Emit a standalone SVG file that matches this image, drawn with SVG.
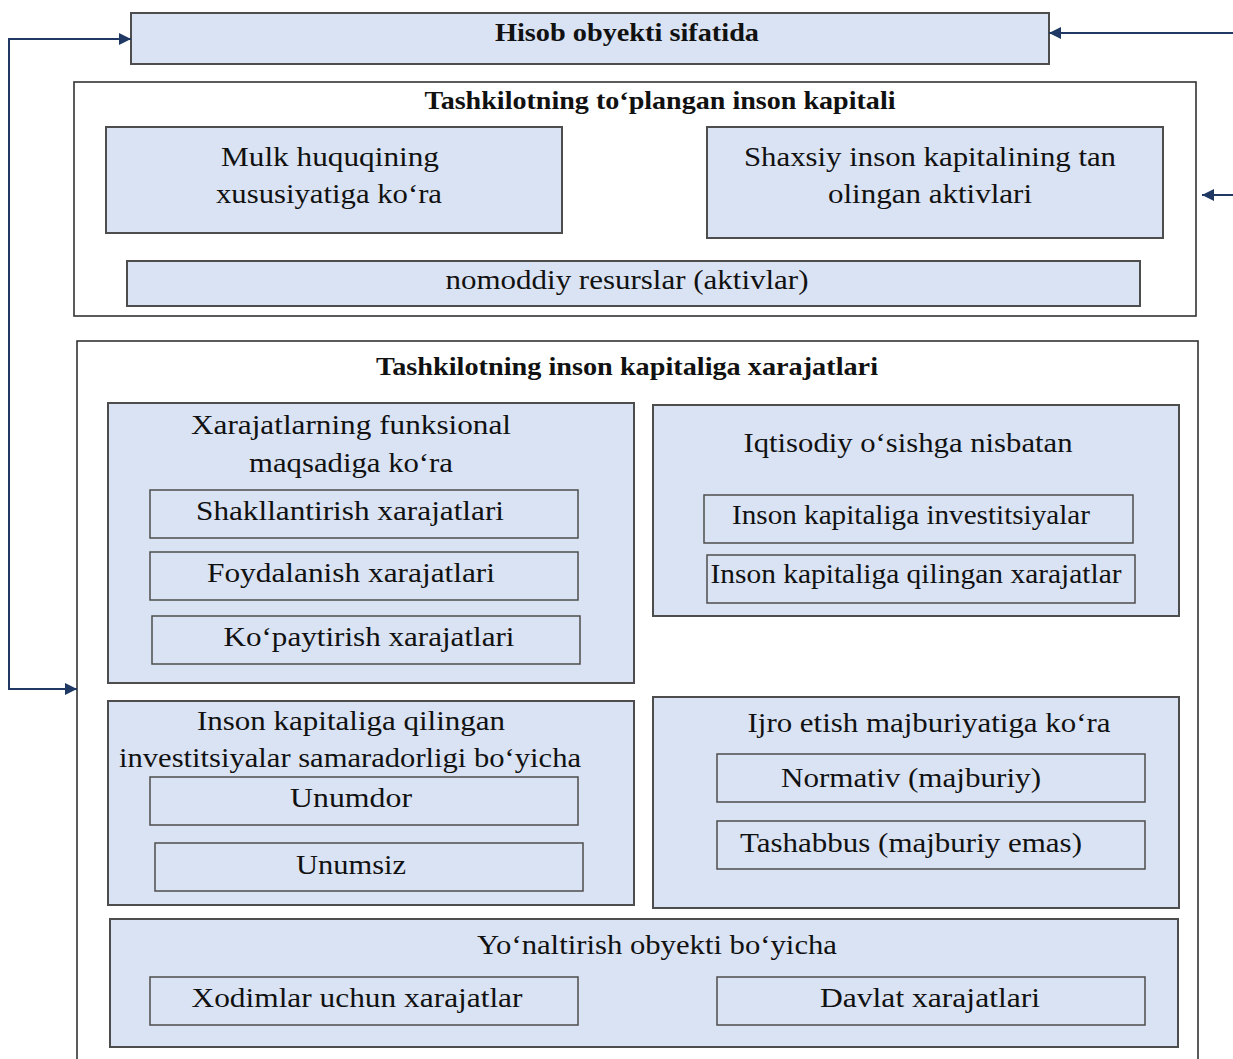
<svg xmlns="http://www.w3.org/2000/svg" width="1233" height="1059" viewBox="0 0 1233 1059">
<style>
.bg{fill:#ffffff}
.node{fill:#dae3f3;stroke:#4d4d4d;stroke-width:2}
.sub{fill:#dae3f3;stroke:#4d4d4d;stroke-width:1.5}
.frame{fill:#ffffff;stroke:#333333;stroke-width:1.6}
.t{font-family:"Liberation Serif","Times New Roman",serif;font-size:27px;fill:#111111;text-anchor:middle}
.b{font-family:"Liberation Serif","Times New Roman",serif;font-size:25px;font-weight:bold;fill:#111111;text-anchor:middle}
.conn{fill:none;stroke:#1f3864;stroke-width:2}
</style>
<defs>
<marker id="arr" viewBox="0 0 10 10" refX="10" refY="5" markerWidth="6.5" markerHeight="6" orient="auto" markerUnits="strokeWidth">
<path d="M0,0 L10,5 L0,10 z" fill="#1f3864"/>
</marker>
</defs>
<rect class="bg" x="0" y="0" width="1233" height="1059"/>

<g id="hisob">
<rect class="node" x="131" y="13" width="918" height="51"/>
<text class="b" x="627" y="41" textLength="264" lengthAdjust="spacingAndGlyphs">Hisob obyekti sifatida</text>
</g>

<g id="toplangan">
<rect class="frame" x="74" y="82" width="1122" height="234"/>
<text class="b" x="660" y="109" textLength="471" lengthAdjust="spacingAndGlyphs">Tashkilotning to‘plangan inson kapitali</text>
</g>

<g id="mulk">
<rect class="node" x="106" y="127" width="456" height="106"/>
<text class="t" x="330" y="166" textLength="218" lengthAdjust="spacingAndGlyphs">Mulk huquqining</text>
<text class="t" x="329" y="203" textLength="226" lengthAdjust="spacingAndGlyphs">xususiyatiga ko‘ra</text>
</g>

<g id="shaxsiy">
<rect class="node" x="707" y="127" width="456" height="111"/>
<text class="t" x="930" y="166" textLength="372" lengthAdjust="spacingAndGlyphs">Shaxsiy inson kapitalining tan</text>
<text class="t" x="930" y="203" textLength="204" lengthAdjust="spacingAndGlyphs">olingan aktivlari</text>
</g>

<g id="nomoddiy">
<rect class="node" x="127" y="261" width="1013" height="45"/>
<text class="t" x="627" y="289" textLength="363" lengthAdjust="spacingAndGlyphs">nomoddiy resurslar (aktivlar)</text>
</g>

<g id="xarajatlar">
<rect class="frame" x="77" y="341" width="1121" height="730"/>
<text class="b" x="627" y="375" textLength="502" lengthAdjust="spacingAndGlyphs">Tashkilotning inson kapitaliga xarajatlari</text>
</g>

<g id="funksional">
<rect class="node" x="108" y="403" width="526" height="280"/>
<text class="t" x="351" y="434" textLength="320" lengthAdjust="spacingAndGlyphs">Xarajatlarning funksional</text>
<text class="t" x="351" y="472" textLength="204" lengthAdjust="spacingAndGlyphs">maqsadiga ko‘ra</text>
</g>
<g id="shakllantirish">
<rect class="sub" x="150" y="490" width="428" height="48"/>
<text class="t" x="350" y="520" textLength="308" lengthAdjust="spacingAndGlyphs">Shakllantirish xarajatlari</text>
</g>
<g id="foydalanish">
<rect class="sub" x="150" y="552" width="428" height="48"/>
<text class="t" x="351" y="582" textLength="288" lengthAdjust="spacingAndGlyphs">Foydalanish xarajatlari</text>
</g>
<g id="kopaytirish">
<rect class="sub" x="152" y="616" width="428" height="48"/>
<text class="t" x="369" y="646" textLength="291" lengthAdjust="spacingAndGlyphs">Ko‘paytirish xarajatlari</text>
</g>

<g id="iqtisodiy">
<rect class="node" x="653" y="405" width="526" height="211"/>
<text class="t" x="908" y="452" textLength="329" lengthAdjust="spacingAndGlyphs">Iqtisodiy o‘sishga nisbatan</text>
</g>
<g id="investitsiyalar">
<rect class="sub" x="704" y="495" width="429" height="48"/>
<text class="t" x="911" y="524" textLength="358" lengthAdjust="spacingAndGlyphs">Inson kapitaliga investitsiyalar</text>
</g>
<g id="qilingan">
<rect class="sub" x="707" y="555" width="428" height="48"/>
<text class="t" x="916" y="583" textLength="411" lengthAdjust="spacingAndGlyphs">Inson kapitaliga qilingan xarajatlar</text>
</g>

<g id="samaradorlik">
<rect class="node" x="108" y="701" width="526" height="204"/>
<text class="t" x="351" y="730" textLength="308" lengthAdjust="spacingAndGlyphs">Inson kapitaliga qilingan</text>
<text class="t" x="350" y="767" textLength="462" lengthAdjust="spacingAndGlyphs">investitsiyalar samaradorligi bo‘yicha</text>
</g>
<g id="unumdor">
<rect class="sub" x="150" y="777" width="428" height="48"/>
<text class="t" x="351" y="807" textLength="122" lengthAdjust="spacingAndGlyphs">Unumdor</text>
</g>
<g id="unumsiz">
<rect class="sub" x="155" y="843" width="428" height="48"/>
<text class="t" x="351" y="874" textLength="110" lengthAdjust="spacingAndGlyphs">Unumsiz</text>
</g>

<g id="ijro">
<rect class="node" x="653" y="697" width="526" height="211"/>
<text class="t" x="929" y="732" textLength="363" lengthAdjust="spacingAndGlyphs">Ijro etish majburiyatiga ko‘ra</text>
</g>
<g id="normativ">
<rect class="sub" x="717" y="754" width="428" height="48"/>
<text class="t" x="911" y="787" textLength="260" lengthAdjust="spacingAndGlyphs">Normativ (majburiy)</text>
</g>
<g id="tashabbus">
<rect class="sub" x="717" y="821" width="428" height="48"/>
<text class="t" x="911" y="852" textLength="342" lengthAdjust="spacingAndGlyphs">Tashabbus (majburiy emas)</text>
</g>

<g id="yonaltirish">
<rect class="node" x="110" y="919" width="1068" height="128"/>
<text class="t" x="657" y="954" textLength="360" lengthAdjust="spacingAndGlyphs">Yo‘naltirish obyekti bo‘yicha</text>
</g>
<g id="xodimlar">
<rect class="sub" x="150" y="977" width="428" height="48"/>
<text class="t" x="357" y="1007" textLength="331" lengthAdjust="spacingAndGlyphs">Xodimlar uchun xarajatlar</text>
</g>
<g id="davlat">
<rect class="sub" x="717" y="977" width="428" height="48"/>
<text class="t" x="930" y="1007" textLength="220" lengthAdjust="spacingAndGlyphs">Davlat xarajatlari</text>
</g>

<g id="connectors">
<path class="conn" d="M77,689 L9,689 L9,39 L131,39" marker-end="url(#arr)"/>
<path class="conn" d="M9,689 L77,689" marker-end="url(#arr)"/>
<path class="conn" d="M1233,33 L1049,33" marker-end="url(#arr)"/>
<path class="conn" d="M1233,195 L1202,195" marker-end="url(#arr)"/>
</g>
</svg>
